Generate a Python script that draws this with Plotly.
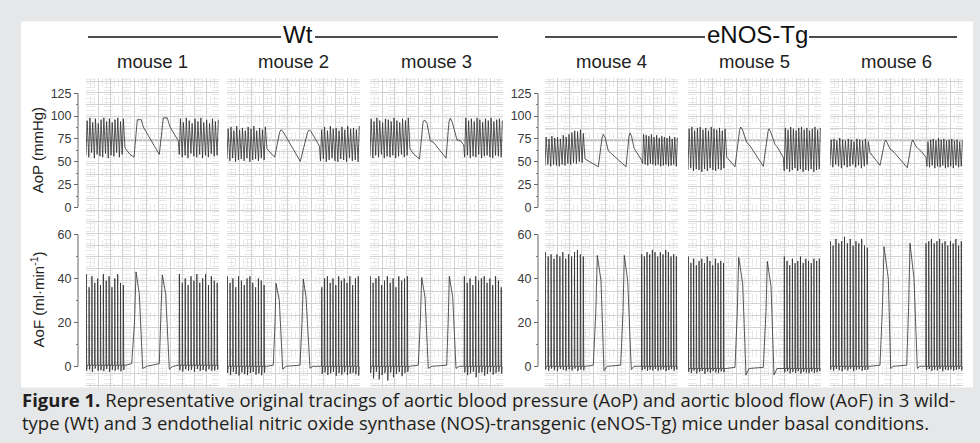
import plotly.graph_objects as go

# ---------------- DATA ----------------
MICE = ["mouse 1", "mouse 2", "mouse 3", "mouse 4", "mouse 5", "mouse 6"]
GROUPS = ["Wt", "eNOS-Tg"]
T_END = 133  # duration of every tracing (time units)

AOP_TICKS = [0, 25, 50, 75, 100, 125]
AOF_TICKS = [0, 20, 40, 60]
AOP_REF = 73   # darker reference line on recorder paper (mmHg)

# AoP fast beats, left block (systolic peaks / diastolic troughs, mmHg)
AOP_LEFT_PEAKS = [
    [95, 98, 93, 97, 92, 96, 98, 94, 97, 93, 96, 98, 94, 97],
    [86, 88, 84, 89, 85, 87, 84, 88, 86, 89, 84, 87, 85, 88],
    [97, 94, 98, 95, 93, 97, 96, 94, 98, 95, 93, 97, 95, 98],
    [77, 75, 78, 76, 77, 75, 79, 77, 80, 82, 84, 83, 85, 81],
    [86, 88, 84, 87, 88, 85, 87, 84, 88, 86, 85, 87, 84, 86],
    [74, 75, 73, 76, 74, 73, 75, 74, 72, 75, 74, 73, 75, 72],
]
AOP_LEFT_TROUGHS = [
    [57, 55, 60, 54, 58, 56, 55, 59, 54, 57, 56, 60, 55, 58],
    [53, 51, 54, 50, 52, 53, 51, 54, 50, 52, 53, 51, 54, 52],
    [56, 54, 57, 55, 58, 54, 56, 55, 57, 54, 56, 58, 55, 57],
    [46, 47, 45, 47, 46, 45, 47, 46, 48, 47, 49, 48, 50, 49],
    [41, 43, 40, 42, 41, 39, 42, 40, 43, 41, 40, 42, 41, 43],
    [46, 44, 47, 45, 43, 46, 44, 45, 47, 44, 46, 43, 45, 47],
]
# AoP fast beats, right block
AOP_RIGHT_PEAKS = [
    [97, 93, 98, 95, 92, 97, 94, 98, 93, 96, 92, 97, 94, 96],
    [85, 88, 84, 89, 86, 87, 84, 88, 85, 89, 86, 87, 85, 89],
    [98, 95, 97, 94, 98, 96, 93, 97, 95, 98, 94, 96, 97, 95],
    [80, 79, 78, 80, 77, 79, 76, 78, 77, 76, 78, 75, 77, 76],
    [87, 85, 88, 86, 84, 87, 88, 85, 87, 84, 86, 88, 85, 87],
    [72, 74, 75, 73, 76, 74, 75, 73, 74, 75, 73, 74, 72, 73],
]
AOP_RIGHT_TROUGHS = [
    [58, 55, 57, 54, 59, 56, 55, 58, 54, 57, 55, 59, 56, 57],
    [51, 53, 50, 52, 54, 51, 50, 53, 52, 50, 54, 51, 52, 50],
    [55, 57, 54, 56, 55, 58, 54, 56, 57, 55, 54, 57, 56, 55],
    [48, 47, 46, 48, 47, 46, 47, 45, 46, 47, 45, 46, 47, 45],
    [40, 42, 39, 41, 43, 40, 42, 39, 41, 40, 42, 39, 41, 42],
    [45, 44, 46, 43, 45, 44, 46, 43, 44, 45, 43, 46, 44, 45],
]
# AoP slow (paused) segment: time / pressure
AOP_SLOW_T = [
    [39, 44, 48, 51.3, 55.3, 57.3, 73.3, 77.3, 81.3, 84, 92.3],
    [40, 47.7, 52.5, 54, 56, 73.3, 80.5, 82.3, 84, 92.5],
    [40, 44, 49.5, 53, 54.5, 57, 60.3, 63.7, 76, 79, 80.3, 82, 87, 90.3, 93.7],
    [40, 53.3, 57, 58.3, 60, 63.3, 66.7, 81, 84, 85, 86.5, 89.3, 92.7, 96.7],
    [38.7, 47, 51.5, 52.7, 54.5, 58.7, 62, 75.3, 80, 81, 82.5, 87, 89.3, 95.3],
    [40, 46.7, 50, 54.5, 55.7, 57, 60, 64, 77.3, 81.5, 82.7, 84, 86.7, 90.7, 96],
]
AOP_SLOW_V = [
    [65, 58, 55, 96, 96, 88, 58, 98, 98, 88, 73],
    [64, 55, 82, 85, 83, 50.5, 82, 85, 83, 67],
    [64, 58, 53, 93, 95.7, 92, 73, 71, 54, 94, 97.5, 94, 74, 73, 68.5],
    [53, 44.5, 76, 80, 77, 62, 58.6, 44.5, 78, 81.5, 78, 64, 58.6, 51.5],
    [55, 44.5, 84, 88, 85, 71, 67.5, 45, 83, 86, 83, 69, 66, 55],
    [60, 50, 46, 71, 73.8, 71, 64, 60.5, 43.4, 71, 73.8, 71, 65.7, 62, 55],
]

# AoF fast beats: peak flows and post-systolic dips (ml/min)
AOF_LEFT_PEAKS = [
    [42, 36, 41, 38, 40, 37, 42, 39, 41, 36, 40, 42, 38, 37],
    [41, 38, 40, 36, 41, 39, 37, 40, 41, 38, 36, 40, 39, 37],
    [41, 38, 40, 41, 37, 39, 41, 38, 40, 36, 41, 39, 40, 41],
    [52, 50, 51, 49, 51, 50, 52, 49, 51, 50, 52, 53, 51, 50],
    [50, 47, 49, 46, 48, 49, 47, 50, 48, 46, 49, 47, 48, 47],
    [57, 55, 58, 56, 57, 59, 56, 58, 55, 57, 56, 58, 55, 54],
]
AOF_RIGHT_PEAKS = [
    [42, 38, 40, 37, 41, 39, 42, 38, 40, 42, 37, 41, 39, 38],
    [36, 40, 41, 38, 40, 37, 41, 39, 40, 38, 41, 37, 40, 41],
    [41, 38, 40, 37, 41, 39, 40, 41, 38, 40, 37, 41, 39, 36],
    [51, 50, 52, 51, 53, 52, 50, 52, 51, 53, 52, 50, 51, 50],
    [50, 48, 46, 49, 47, 48, 50, 47, 49, 48, 47, 49, 48, 49],
    [56, 57, 58, 56, 57, 58, 56, 57, 55, 57, 56, 58, 55, 57],
]
AOF_LEFT_DIPS = [
    [-2, -1.5, -2.5, -1, -2, -1.8, -2.2, -1.2, -2.5, -1.6, -2, -1.4, -2.3, -1.7],
    [-3, -4, -2.5, -3.5, -4.2, -2.8, -3.6, -4, -3, -2.6, -3.8, -3.2, -4.1, -2.9],
    [-3, -5.5, -2.5, -6, -4, -3, -6.5, -2.8, -5, -3.5, -2.6, -4.5, -3, -2.5],
    [-1.5, -2, -1, -1.8, -2.2, -1.2, -1.6, -2, -1.4, -1.9, -1.1, -2.1, -1.5, -1.8],
    [-2.5, -3, -2, -3.2, -2.6, -2.2, -3.4, -2.4, -3, -2.1, -2.8, -3.1, -2.3, -2.7],
    [-1.5, -2, -1.2, -1.8, -2.3, -1.4, -1.9, -1.1, -2.2, -1.6, -1.3, -2, -1.7, -1.5],
]
AOF_RIGHT_DIPS = [
    [-1.8, -2.4, -1.3, -2, -1.6, -2.5, -1.2, -2.1, -1.7, -2.3, -1.4, -2, -1.9, -1.5],
    [-3.5, -2.8, -4, -3.2, -2.6, -4.3, -3, -3.8, -2.7, -4, -3.3, -2.9, -3.6, -4.2],
    [-2.8, -4, -3.2, -2.5, -5, -3, -2.7, -4.2, -3.5, -2.6, -3.8, -3, -2.4, -3.3],
    [-1.8, -1.3, -2.1, -1.5, -1.9, -1.2, -2, -1.6, -1.4, -2.2, -1.7, -1.3, -2, -1.5],
    [-2.8, -2.3, -3.2, -2.6, -3, -2.2, -3.3, -2.5, -2.9, -3.1, -2.4, -3, -2.7, -2.2],
    [-1.7, -1.3, -2.1, -1.6, -1.9, -1.2, -2.2, -1.5, -1.8, -1.4, -2, -1.6, -1.3, -1.9],
]
AOF_BASE = [0.5, 0, 0, 0, -1, 0]
# AoF slow (paused) segment: time / flow
AOF_SLOW_T = [
    [40, 45.7, 48.5, 50, 53.3, 56.7, 60.7, 73.3, 75, 76.3, 79.7, 83.3, 87, 92.3],
    [39.7, 46.3, 48, 49, 52.3, 55.7, 59, 73, 75, 76.3, 79, 83, 86, 93.7],
    [40, 48.3, 50.3, 51.7, 55, 58.3, 62, 76.7, 78.3, 79.3, 82.7, 86, 89, 93.3],
    [41, 48.3, 50.8, 52.3, 56, 59, 62, 75.7, 78, 79.3, 82.7, 86.3, 89, 95.7],
    [38, 47, 49.3, 50.7, 54.7, 58, 61, 75.3, 78, 79.3, 83, 86, 89, 95.3],
    [40, 50, 52.5, 54, 58.3, 60.7, 63, 76.7, 78.7, 80, 84, 87.3, 90, 95],
]
AOF_SLOW_V = [
    [0.5, 1.2, 20, 43, 33, -1, 0, 1.2, 25, 41.6, 33, -1.3, 0, 0.5],
    [0, 0.5, 20, 37.8, 30, -1.3, 0, 0.5, 20, 39.7, 31.5, -0.9, 0, 0],
    [0, 0.5, 20, 40.4, 31.5, -0.9, 0, 0.5, 22, 41, 31.5, -1, 0, 0],
    [0, 0.5, 25, 50.5, 39, -2, 0, 0.5, 25, 50.5, 39, -1.5, 0, 0],
    [-1, -0.5, 25, 49.6, 37.5, -4, -1, -0.5, 25, 47.8, 36.5, -4, -1, -1],
    [0, 0.5, 28, 54.5, 40, -1, 0, 0.5, 28, 56, 40, -1, 0, 0],
]

CAPTION_1 = ("<b>Figure 1.</b> Representative original tracings of aortic blood pressure "
             "(AoP) and aortic blood flow (AoF) in 3 wild-")
CAPTION_2 = ("type (Wt) and 3 endothelial nitric oxide synthase (NOS)-transgenic "
             "(eNOS-Tg) mice under basal conditions.")

# ---------------- LAYOUT GEOMETRY (pixels) ----------------
W, H = 980, 443
PANEL_LEFT = [86, 227, 370, 545, 688, 830]
PANEL_W = 133
AXIS_X = {0: 78, 3: 538}
FONT = "Liberation Sans, Arial"


def fx(x):
    return x / W


def fy(y):
    return 1 - y / H


def ax(n):
    return "" if n == 1 else str(n)


# build traces from data
def aop_series(i):
    t, v = [], []
    st, sv = AOP_SLOW_T[i], AOP_SLOW_V[i]
    n = len(AOP_LEFT_PEAKS[i])
    P = st[0] / n
    for k in range(n):
        t += [k * P, (k + 0.4) * P]
        v += [AOP_LEFT_TROUGHS[i][k], AOP_LEFT_PEAKS[i][k]]
    t += st
    v += sv
    S = st[-1]
    n = len(AOP_RIGHT_PEAKS[i])
    P = (T_END - S) / n
    for k in range(n):
        t += [S + (k + 0.35) * P, S + (k + 0.75) * P]
        v += [AOP_RIGHT_TROUGHS[i][k], AOP_RIGHT_PEAKS[i][k]]
    return t, v


def aof_series(i):
    t, v = [], []
    b = AOF_BASE[i]
    st, sv = AOF_SLOW_T[i], AOF_SLOW_V[i]
    n = len(AOF_LEFT_PEAKS[i])
    P = st[0] / n
    for k in range(n):
        t += [k * P, (k + 0.08) * P, (k + 0.22) * P, (k + 0.4) * P]
        v += [b, AOF_LEFT_PEAKS[i][k], AOF_LEFT_DIPS[i][k], b]
    t += st
    v += sv
    S = st[-1]
    n = len(AOF_RIGHT_PEAKS[i])
    P = (T_END - S) / n
    for k in range(n):
        t += [S + (k + 0.3) * P, S + (k + 0.38) * P, S + (k + 0.52) * P, S + (k + 0.7) * P]
        v += [b, AOF_RIGHT_PEAKS[i][k], AOF_RIGHT_DIPS[i][k], b]
    return t, v


fig = go.Figure()
layout = {}
shapes = []
annotations = []

AOP_DOM = [fy(207), fy(89)]
AOF_TOP, AOF_ZERO, AOF_BOT = 235, 371, 389
aof_min = -(AOF_BOT - AOF_ZERO) / ((AOF_ZERO - AOF_TOP) / AOF_TICKS[-1])
AOF_DOM = [fy(AOF_BOT), fy(AOF_TOP)]
TICKFONT = dict(family=FONT, size=12.5, color="#3a3a3a")
GRID_STEP = PANEL_W / 11

for i in range(6):
    L = PANEL_LEFT[i]
    xd = [fx(L), fx(L + PANEL_W)]
    # background recorder-paper grid
    n = i + 1
    layout["xaxis" + ax(n)] = dict(
        domain=xd, range=[0, PANEL_W], anchor="y" + ax(n), showticklabels=False,
        ticks="", zeroline=False, showline=False, showgrid=True, tick0=0,
        dtick=GRID_STEP, gridcolor="#d2d2d2", gridwidth=1, fixedrange=True,
        minor=dict(showgrid=True, dtick=GRID_STEP / 3, gridcolor="#e9e9e9",
                   griddash="dash", gridwidth=1))
    layout["yaxis" + ax(n)] = dict(
        domain=[fy(393), fy(73)], range=[0, 320], anchor="x" + ax(n), showticklabels=False,
        ticks="", zeroline=False, showline=False, showgrid=True, tick0=2, dtick=GRID_STEP,
        gridcolor="#d2d2d2", gridwidth=1, fixedrange=True,
        minor=dict(showgrid=True, dtick=GRID_STEP / 3, gridcolor="#e9e9e9",
                   griddash="dash", gridwidth=1))
    fig.add_trace(go.Scatter(x=[], y=[], xaxis="x" + ax(n), yaxis="y" + ax(n),
                             showlegend=False, hoverinfo="skip"))

    for kind in ("aop", "aof"):
        n = (7 if kind == "aop" else 13) + i
        layout["xaxis" + ax(n)] = dict(domain=xd, range=[0, PANEL_W], anchor="y" + ax(n),
                                       visible=False, fixedrange=True)
        if kind == "aop":
            yr, dom, tv = [0, AOP_TICKS[-1]], AOP_DOM, AOP_TICKS
            t, v = aop_series(i)
        else:
            yr, dom, tv = [aof_min, AOF_TICKS[-1]], AOF_DOM, AOF_TICKS
            t, v = aof_series(i)
        ya = dict(domain=dom, range=yr, showgrid=False, zeroline=False, fixedrange=True)
        if i in AXIS_X:
            minor_vals = [(a + b) / 2 for a, b in zip(tv[:-1], tv[1:])]
            ya.update(anchor="free", position=fx(AXIS_X[i]), visible=True, showline=False,
                      ticks="outside", ticklen=4, tickwidth=1, tickcolor="#666",
                      tickmode="array", tickvals=tv, ticktext=[str(x) for x in tv],
                      tickfont=TICKFONT,
                      minor=dict(ticks="outside", ticklen=2, tickcolor="#888",
                                 tickmode="array", tickvals=minor_vals))
            shapes.append(dict(type="line", xref="paper", yref="y" + ax(n),
                               x0=fx(AXIS_X[i]), x1=fx(AXIS_X[i]), y0=tv[0], y1=tv[-1],
                               line=dict(color="#666", width=1)))
        else:
            ya.update(anchor="x" + ax(n), visible=False)
        layout["yaxis" + ax(n)] = ya
        if kind == "aop":
            shapes.append(dict(type="line", xref="x" + ax(n) + " domain", yref="y" + ax(n),
                               x0=0, x1=1, y0=AOP_REF, y1=AOP_REF, layer="below",
                               line=dict(color="#a8a8a8", width=1)))
        fig.add_trace(go.Scatter(x=t, y=v, mode="lines", xaxis="x" + ax(n),
                                 yaxis="y" + ax(n), showlegend=False, hoverinfo="skip",
                                 line=dict(color="#2e2e2e", width=0.8)))

    annotations.append(dict(text=MICE[i], x=fx(L + PANEL_W / 2), y=fy(56), xref="paper",
                            yref="paper", showarrow=False, xanchor="center", yanchor="middle",
                            font=dict(family=FONT, size=18.5, color="#222")))

# white figure panel
shapes.insert(0, dict(type="rect", xref="paper", yref="paper", x0=fx(21), x1=fx(973),
                      y0=fy(393), y1=fy(15), fillcolor="white", line=dict(width=0),
                      layer="below"))

# group headers with rules
HEADER = [(GROUPS[0], 298, (88, 281), (315, 498)),
          (GROUPS[1], 757, (545, 705), (809, 957))]
for name, cx, l1, l2 in HEADER:
    annotations.append(dict(text=name, x=fx(cx), y=fy(28.5), xref="paper", yref="paper",
                            showarrow=False, xanchor="center", yanchor="middle",
                            font=dict(family=FONT, size=24, color="#111")))
    for a, b in (l1, l2):
        shapes.append(dict(type="line", xref="paper", yref="paper", x0=fx(a), x1=fx(b),
                           y0=fy(31), y1=fy(31), line=dict(color="#111", width=1.3)))

# axis titles
annotations.append(dict(text="AoP (mmHg)", x=fx(37), y=fy(148), xref="paper", yref="paper",
                        showarrow=False, textangle=-90, xanchor="center", yanchor="middle",
                        font=dict(family=FONT, size=15, color="#222")))
annotations.append(dict(text="AoF (ml·min<sup>-1</sup>)", x=fx(37), y=fy(302), xref="paper",
                        yref="paper", showarrow=False, textangle=-90, xanchor="center",
                        yanchor="middle", font=dict(family=FONT, size=15, color="#222")))

# caption
for txt, yc in ((CAPTION_1, 405), (CAPTION_2, 429)):
    annotations.append(dict(text=txt, x=fx(20), y=fy(yc), xref="paper", yref="paper",
                            showarrow=False, xanchor="left", yanchor="middle",
                            font=dict(family="Open Sans", size=18.5, color="#231f20")))

layout.update(width=W, height=H, margin=dict(l=0, r=0, t=0, b=0),
              paper_bgcolor="#e6e7e8", plot_bgcolor="rgba(0,0,0,0)", showlegend=False,
              shapes=shapes, annotations=annotations)
fig.update_layout(**layout)
fig.write_html("out.html")
